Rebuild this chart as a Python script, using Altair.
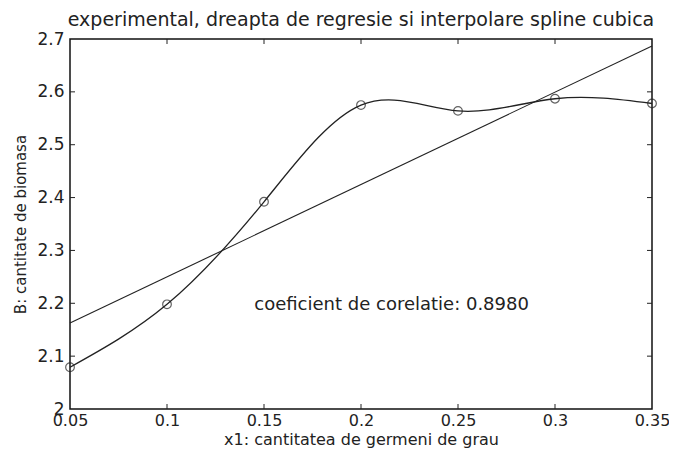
import altair as alt
import pandas as pd

# Data
x_vals = [0.05, 0.10, 0.15, 0.20, 0.25, 0.30, 0.35]
y_vals = [2.079, 2.198, 2.392, 2.575, 2.564, 2.587, 2.578]
x_ticks = [0.05, 0.10, 0.15, 0.20, 0.25, 0.30, 0.35]
y_ticks = [2.0, 2.1, 2.2, 2.3, 2.4, 2.5, 2.6, 2.7]
inner_x_ticks = [0.10, 0.15, 0.20, 0.25, 0.30]
inner_y_ticks = [2.1, 2.2, 2.3, 2.4, 2.5, 2.6]
note_text = ["coeficient de corelatie: 0.8980"]
note_x = [0.145]
note_y = [2.196]

W, H = 582, 370
PAD_L, PAD_T = 62, 31
PAD_R = 661 - W - PAD_L
PAD_B = 441 - H - PAD_T
FONT = "DejaVu Sans"
INK = "#222222"

df = pd.DataFrame({"x": x_vals, "y": y_vals})
xt = pd.DataFrame({"t": inner_x_ticks})
yt = pd.DataFrame({"t": inner_y_ticks})
note = pd.DataFrame({"x": note_x, "y": note_y, "label": note_text})

xscale = alt.Scale(domain=[0.05, 0.35], nice=False, zero=False)
yscale = alt.Scale(domain=[2.0, 2.7], nice=False, zero=False)

xaxis = alt.Axis(values=x_ticks, format=".2~f", grid=False, domain=False, ticks=False,
                 labelFont=FONT, labelFontSize=16, labelColor=INK, labelPadding=3,
                 title="x1: cantitatea de germeni de grau", titleFont=FONT,
                 titleFontSize=16, titleFontWeight="normal", titleColor=INK, titlePadding=3,
                 labelFlush=False)
yaxis = alt.Axis(values=y_ticks, format=".1~f", grid=False, domain=False, ticks=False,
                 labelFont=FONT, labelFontSize=17, labelColor=INK, labelPadding=6,
                 title="B: cantitate de biomasa", titleFont=FONT,
                 titleFontSize=15, titleFontWeight="normal", titleColor=INK, titlePadding=8,
                 labelFlush=False)

base = alt.Chart(df)

spline = base.mark_line(interpolate="natural", color=INK, strokeWidth=1.3).encode(
    x=alt.X("x:Q", scale=xscale, axis=xaxis),
    y=alt.Y("y:Q", scale=yscale, axis=yaxis),
)

points = base.mark_point(shape="circle", filled=False, color=INK, size=75, strokeWidth=1.2).encode(
    x=alt.X("x:Q", scale=xscale),
    y=alt.Y("y:Q", scale=yscale),
)

regline = base.transform_regression("x", "y", method="linear").mark_line(
    color=INK, strokeWidth=1.1
).encode(
    x=alt.X("x:Q", scale=xscale),
    y=alt.Y("y:Q", scale=yscale),
)

txt = alt.Chart(note).mark_text(align="left", baseline="middle", font=FONT,
                                fontSize=18, color=INK).encode(
    x=alt.X("x:Q", scale=xscale),
    y=alt.Y("y:Q", scale=yscale),
    text="label:N",
)

tick_bottom = alt.Chart(xt).mark_rule(color=INK, strokeWidth=1).encode(
    x=alt.X("t:Q", scale=xscale), y=alt.value(H), y2=alt.value(H - 5))
tick_top = alt.Chart(xt).mark_rule(color=INK, strokeWidth=1).encode(
    x=alt.X("t:Q", scale=xscale), y=alt.value(0), y2=alt.value(5))
tick_left = alt.Chart(yt).mark_rule(color=INK, strokeWidth=1).encode(
    y=alt.Y("t:Q", scale=yscale), x=alt.value(0), x2=alt.value(5))
tick_right = alt.Chart(yt).mark_rule(color=INK, strokeWidth=1).encode(
    y=alt.Y("t:Q", scale=yscale), x=alt.value(W), x2=alt.value(W - 5))

chart = alt.layer(
    spline, regline, points, txt, tick_bottom, tick_top, tick_left, tick_right
).properties(
    width=W,
    height=H,
    title=alt.TitleParams(
        "experimental, dreapta de regresie si interpolare spline cubica",
        font=FONT, fontSize=19, fontWeight="normal", color=INK, anchor="middle", offset=0,
    ),
    autosize=alt.AutoSizeParams(type="none"),
    padding={"left": PAD_L, "top": PAD_T, "right": PAD_R, "bottom": PAD_B},
    background="white",
).configure_view(
    stroke="#111111", strokeWidth=1.5
)

chart.save("out.html", embed_options={"renderer": "svg", "actions": False})
